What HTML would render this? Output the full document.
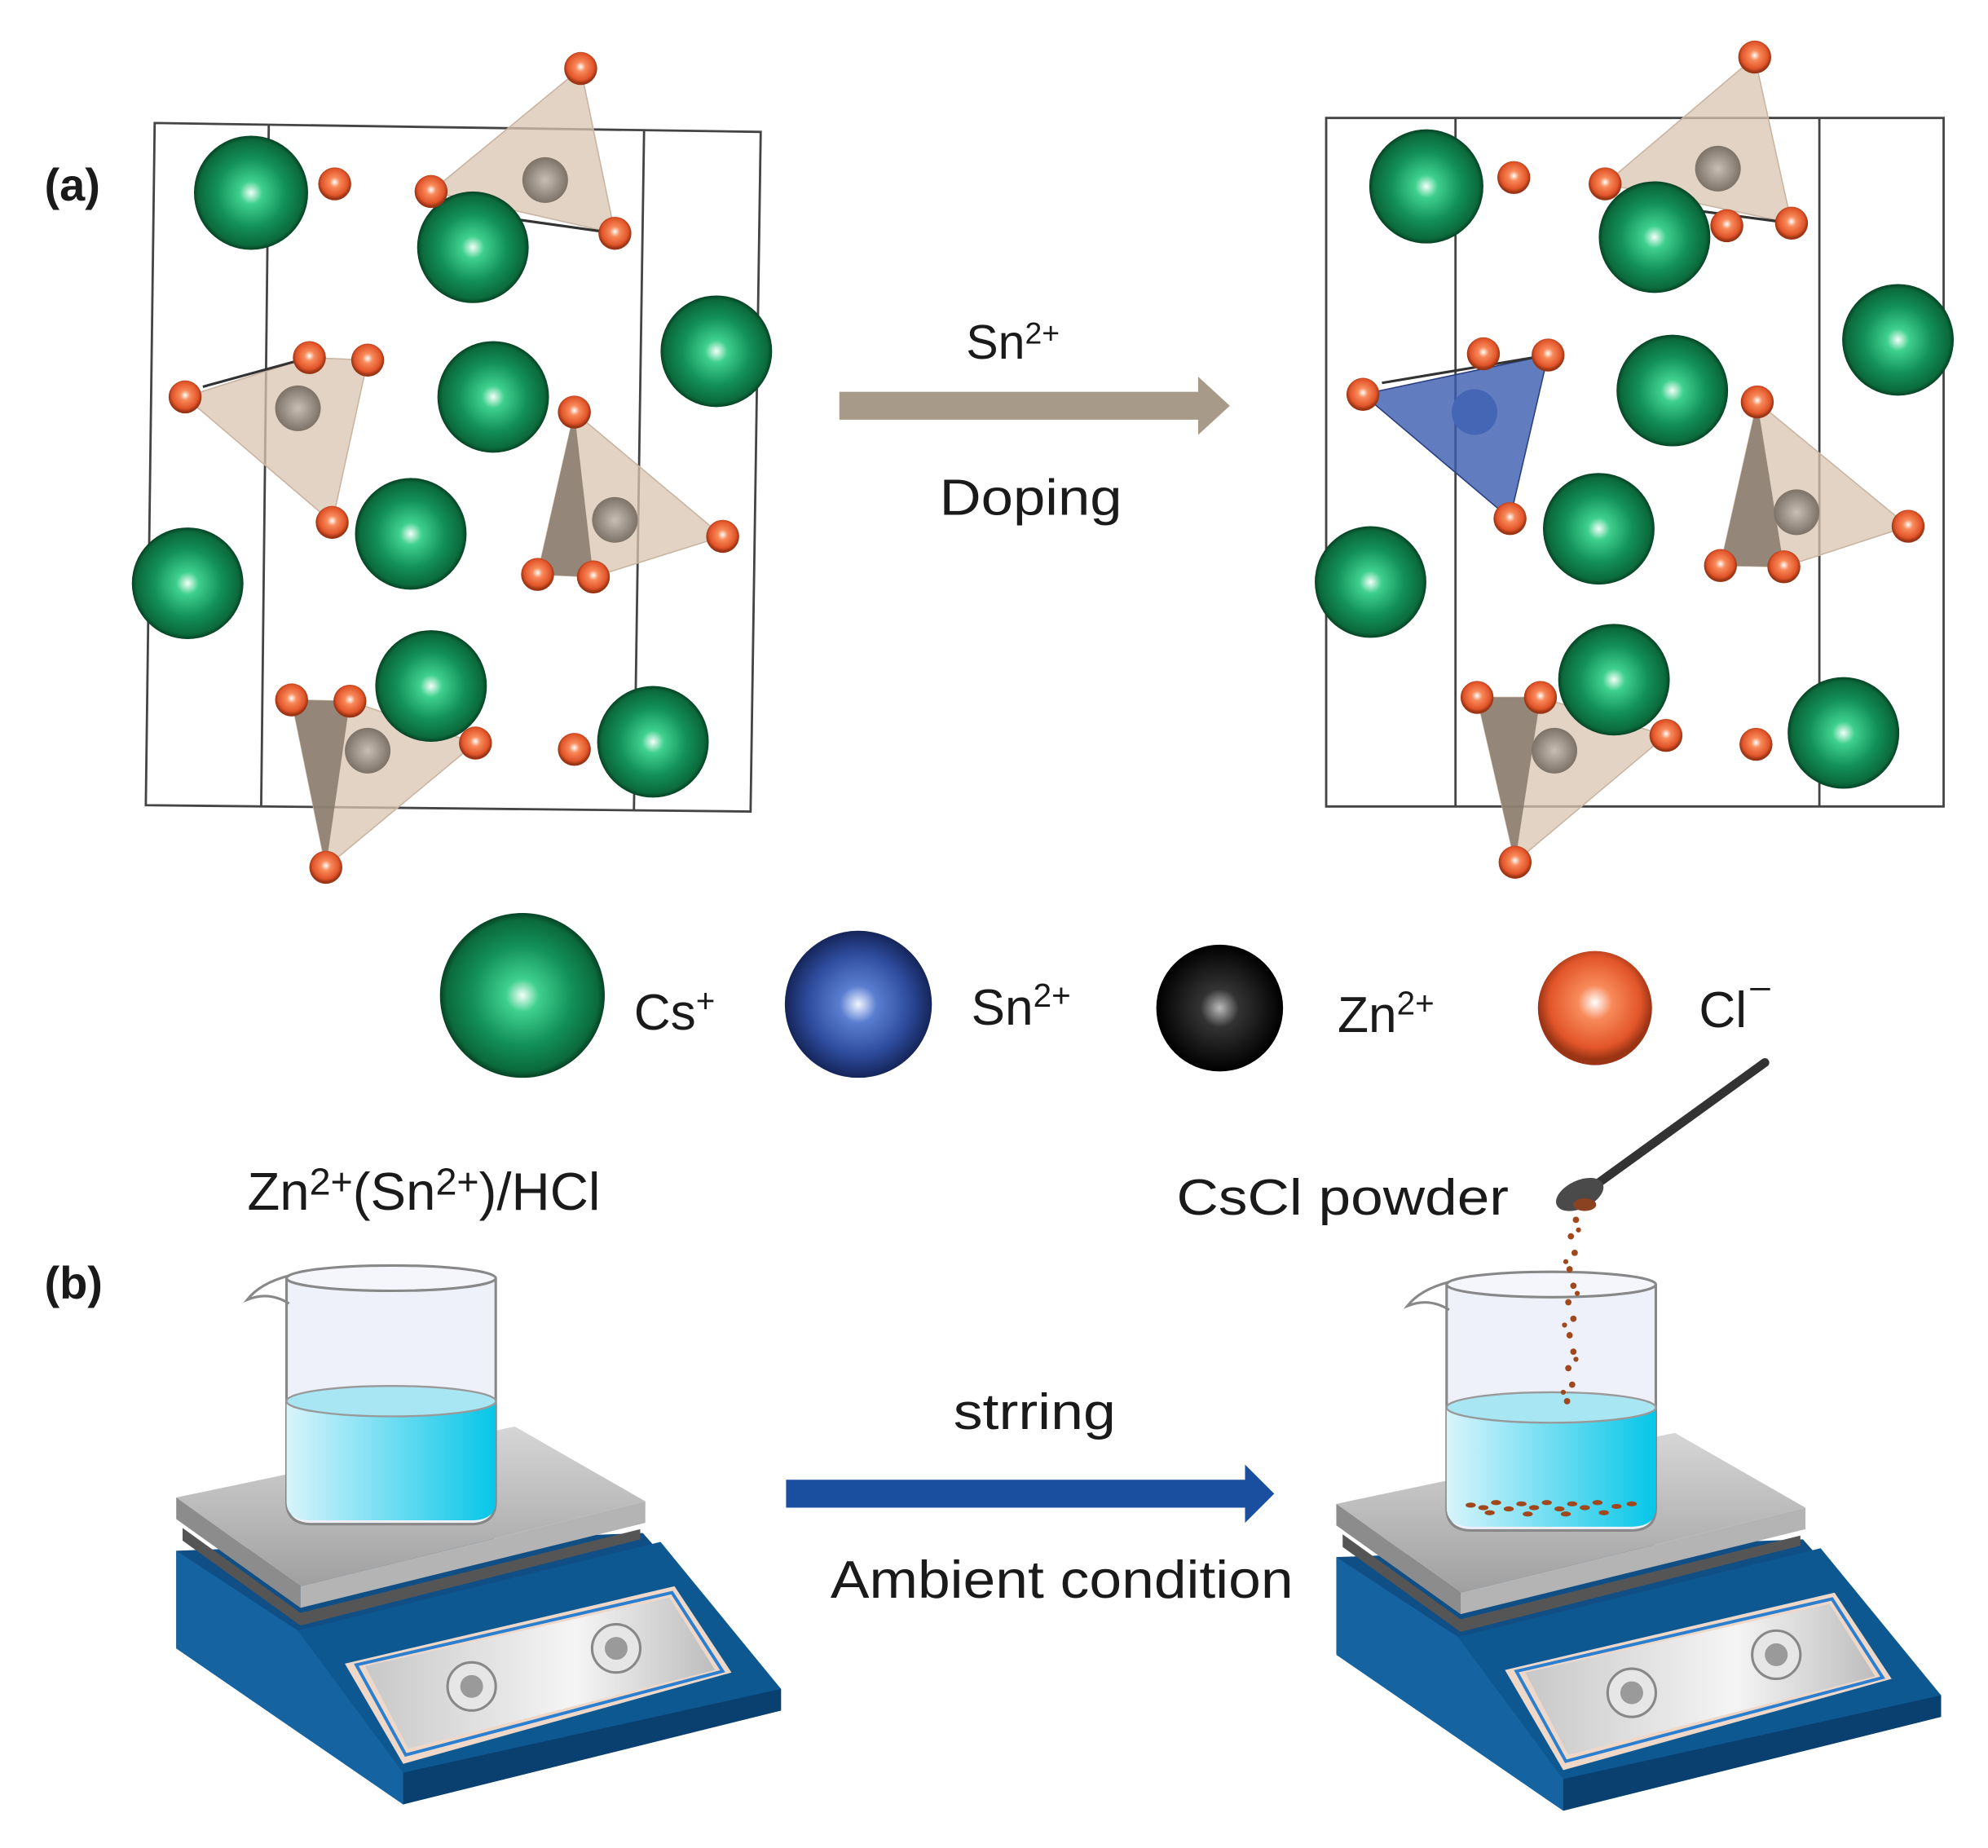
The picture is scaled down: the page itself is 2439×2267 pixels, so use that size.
<!DOCTYPE html>
<html><head><meta charset="utf-8"><style>html,body{margin:0;padding:0;background:#fff}svg{display:block}text{font-family:"Liberation Sans",Arial,sans-serif;fill:#1a1a1a}</style></head>
<body>
<svg width="2439" height="2267" viewBox="0 0 1568 1457.4" xmlns="http://www.w3.org/2000/svg">
<defs>
<radialGradient id="g" cx="50%" cy="50%" r="50%"><stop offset="0" stop-color="#f4fff8"/><stop offset="0.2" stop-color="#3fd08e"/><stop offset="0.6" stop-color="#13915a"/><stop offset="0.92" stop-color="#0b6a3c"/><stop offset="1" stop-color="#064224"/></radialGradient>
<radialGradient id="o" cx="50%" cy="45%" r="50%"><stop offset="0" stop-color="#fff"/><stop offset="0.3" stop-color="#f88a5a"/><stop offset="0.8" stop-color="#e2552a"/><stop offset="1" stop-color="#9a3414"/></radialGradient>
<radialGradient id="b" cx="50%" cy="50%" r="50%"><stop offset="0" stop-color="#f0f6ff"/><stop offset="0.25" stop-color="#5b7ed0"/><stop offset="0.7" stop-color="#2d4a9a"/><stop offset="1" stop-color="#15255a"/></radialGradient>
<radialGradient id="k" cx="50%" cy="50%" r="50%"><stop offset="0" stop-color="#bbb"/><stop offset="0.3" stop-color="#333"/><stop offset="1" stop-color="#000"/></radialGradient>
<radialGradient id="gr" cx="50%" cy="50%" r="50%"><stop offset="0" stop-color="#c8beb4"/><stop offset="1" stop-color="#7d7268"/></radialGradient>
<linearGradient id="water" x1="0" x2="1"><stop offset="0" stop-color="#d8f4fb"/><stop offset="1" stop-color="#06c6e8"/></linearGradient>
<linearGradient id="plate" x1="0" y1="0" x2="0" y2="1"><stop offset="0" stop-color="#d6d6d6"/><stop offset="1" stop-color="#a0a0a0"/></linearGradient>
<linearGradient id="panel" x1="0" x2="1"><stop offset="0" stop-color="#c8c8c8"/><stop offset="0.6" stop-color="#f5f5f5"/><stop offset="1" stop-color="#bdbdbd"/></linearGradient>
<g id="hp">
 <!-- body -->
 <polygon points="139,1223 507,1209 616,1332 616,1349 318,1423 139,1300" fill="#0f4f86"/>
 <polygon points="139,1223 235,1286 318,1398 318,1423 139,1300" fill="#1563a0"/>
 <polygon points="235,1286 521,1216 616,1332 318,1398" fill="#0e5892"/>
 <polygon points="318,1398 616,1332 616,1349 318,1423" fill="#0a406f"/>
 <!-- dark gap -->
 <polygon points="144,1205 237,1272 505,1206 505,1214 237,1282 144,1215" fill="#555"/>
 <!-- plate -->
 <polygon points="139,1181 406,1125 509,1184 237,1251" fill="url(#plate)"/>
 <polygon points="139,1181 237,1251 237,1268 139,1198" fill="#8c8c8c"/>
 <polygon points="237,1251 509,1184 509,1201 237,1268" fill="#b4b4b4"/>
 <!-- panel -->
 <polygon points="272,1312 532,1251 577,1319 318,1391" fill="#f0d8c8"/>
 <polygon points="281,1313 530,1256 570,1318 320,1384" fill="none" stroke="#2a7fd0" stroke-width="2.5"/>
 <polygon points="288,1314 528,1260 564,1317 322,1379" fill="url(#panel)"/>
 <circle cx="372" cy="1330" r="19" fill="#e6e6e6" stroke="#888" stroke-width="2"/>
 <circle cx="372" cy="1330" r="9" fill="#9a9a9a"/>
 <circle cx="486" cy="1300" r="19" fill="#e6e6e6" stroke="#888" stroke-width="2"/>
 <circle cx="486" cy="1300" r="9" fill="#9a9a9a"/>
</g>
<g id="bk">
 <path d="M226,1008 L226,1184 Q226,1202 246,1202 L371,1202 Q391,1202 391,1184 L391,1008" fill="#eef1fa" stroke="#888" stroke-width="2"/>
 <path d="M226,1105 L226,1184 Q226,1199 246,1199 L371,1199 Q391,1199 391,1184 L391,1105 Z" fill="url(#water)"/>
 <ellipse cx="308.5" cy="1105" rx="82.5" ry="12" fill="#a9e6f4" stroke="#999" stroke-width="1.5"/>
 <ellipse cx="308.5" cy="1008" rx="82.5" ry="10" fill="#f5f6fb" stroke="#888" stroke-width="2"/>
 <path d="M228,1006 Q205,1012 195,1025 Q212,1018 228,1028" fill="none" stroke="#888" stroke-width="2"/>
</g>
</defs>
<rect width="1568" height="1458" fill="#fff"/>

<!-- left crystal -->
<g fill="none" stroke="#444" stroke-width="1.8">
<polygon points="122,97 600,104 592,640 115,635"/>
<line x1="212" y1="98" x2="206" y2="636"/><line x1="508" y1="103" x2="500" y2="639"/>
</g>
<g fill="#d9c4b0" fill-opacity="0.75" stroke="#c8b4a0" stroke-width="1">
<polygon points="458,54 340,151 485,184"/>
<polygon points="146,313 244,282 290,284 262,412"/>
<polygon points="453,325 570,423 468,455 424,453"/>
<polygon points="230,552 276,553 375,586 257,684"/>
</g>
<g fill="#7f7468" fill-opacity="0.8">
<polygon points="453,325 424,453 468,455"/>
<polygon points="230,552 257,684 276,553"/>
</g>
<g stroke="#333" stroke-width="2"><line x1="400" y1="172" x2="485" y2="184"/><line x1="160" y1="305" x2="244" y2="282"/></g>
<circle cx="430" cy="142" r="18" fill="url(#gr)"/><circle cx="235" cy="322" r="18" fill="url(#gr)"/><circle cx="485" cy="410" r="18" fill="url(#gr)"/><circle cx="290" cy="592" r="18" fill="url(#gr)"/>
<g fill="url(#g)">
<circle cx="198" cy="152" r="45"/><circle cx="373" cy="195" r="44"/><circle cx="565" cy="277" r="44"/><circle cx="389" cy="313" r="44"/><circle cx="324" cy="421" r="44"/><circle cx="148" cy="460" r="44"/><circle cx="340" cy="541" r="44"/><circle cx="515" cy="585" r="44"/>
</g>
<g fill="url(#o)">
<circle cx="458" cy="54" r="13"/><circle cx="264" cy="145" r="13"/><circle cx="340" cy="151" r="13"/><circle cx="485" cy="184" r="13"/><circle cx="244" cy="282" r="13"/><circle cx="290" cy="284" r="13"/><circle cx="146" cy="313" r="13"/><circle cx="453" cy="325" r="13"/><circle cx="262" cy="412" r="13"/><circle cx="424" cy="453" r="13"/><circle cx="468" cy="455" r="13"/><circle cx="570" cy="423" r="13"/><circle cx="230" cy="552" r="13"/><circle cx="276" cy="553" r="13"/><circle cx="375" cy="586" r="13"/><circle cx="453" cy="591" r="13"/><circle cx="257" cy="684" r="13"/>
</g>

<!-- right crystal -->
<g fill="none" stroke="#444" stroke-width="1.8">
<polygon points="1046,93 1533,93 1533,636 1046,636"/>
<line x1="1148" y1="93" x2="1148" y2="636"/><line x1="1435" y1="93" x2="1435" y2="636"/>
</g>
<g fill="#d9c4b0" fill-opacity="0.75" stroke="#c8b4a0" stroke-width="1">
<polygon points="1384,45 1266,145 1413,176"/>
<polygon points="1386,317 1505,415 1407,447 1357,446"/>
<polygon points="1165,550 1215,550 1314,580 1195,680"/>
</g>
<polygon points="1075,311 1221,280 1191,409" fill="#3b5bb0" fill-opacity="0.8" stroke="#2a3f80" stroke-width="1"/>
<g fill="#7f7468" fill-opacity="0.8">
<polygon points="1386,317 1357,446 1407,447"/>
<polygon points="1165,550 1195,680 1215,550"/>
</g>
<g stroke="#333" stroke-width="2"><line x1="1330" y1="165" x2="1413" y2="176"/><line x1="1090" y1="302" x2="1221" y2="280"/></g>
<circle cx="1355" cy="133" r="18" fill="url(#gr)"/><circle cx="1163" cy="325" r="18" fill="#4565b5"/><circle cx="1417" cy="404" r="18" fill="url(#gr)"/><circle cx="1226" cy="592" r="18" fill="url(#gr)"/>
<g fill="url(#g)">
<circle cx="1125" cy="147" r="45"/><circle cx="1305" cy="187" r="44"/><circle cx="1497" cy="268" r="44"/><circle cx="1319" cy="308" r="44"/><circle cx="1261" cy="417" r="44"/><circle cx="1081" cy="459" r="44"/><circle cx="1273" cy="536" r="44"/><circle cx="1454" cy="578" r="44"/>
</g>
<g fill="url(#o)">
<circle cx="1384" cy="45" r="13"/><circle cx="1194" cy="140" r="13"/><circle cx="1266" cy="145" r="13"/><circle cx="1413" cy="176" r="13"/><circle cx="1362" cy="178" r="13"/><circle cx="1170" cy="279" r="13"/><circle cx="1221" cy="280" r="13"/><circle cx="1075" cy="311" r="13"/><circle cx="1386" cy="317" r="13"/><circle cx="1191" cy="409" r="13"/><circle cx="1357" cy="446" r="13"/><circle cx="1407" cy="447" r="13"/><circle cx="1505" cy="415" r="13"/><circle cx="1165" cy="550" r="13"/><circle cx="1215" cy="550" r="13"/><circle cx="1314" cy="580" r="13"/><circle cx="1385" cy="587" r="13"/><circle cx="1195" cy="680" r="13"/>
</g>

<!-- arrow a -->
<polygon points="662,309 945,309 945,297 970,320 945,343 945,331 662,331" fill="#a89a88"/>
<text x="762" y="283" font-size="38">Sn<tspan font-size="24" dy="-12">2+</tspan></text>
<text x="741" y="406" font-size="40" textLength="144" lengthAdjust="spacingAndGlyphs">Doping</text>
<text x="35" y="158" font-size="36" font-weight="bold">(a)</text>

<!-- legend -->
<circle cx="412" cy="785" r="65" fill="url(#g)"/>
<circle cx="677" cy="792" r="58" fill="url(#b)"/>
<circle cx="962" cy="795" r="50" fill="url(#k)"/>
<circle cx="1258" cy="795" r="45" fill="url(#o)"/>
<text x="500" y="812" font-size="40">Cs<tspan font-size="26" dy="-14">+</tspan></text>
<text x="766" y="808" font-size="40">Sn<tspan font-size="26" dy="-14">2+</tspan></text>
<text x="1055" y="814" font-size="40">Zn<tspan font-size="26" dy="-14">2+</tspan></text>
<text x="1340" y="810" font-size="40">Cl<tspan dy="-10">⁻</tspan></text>

<!-- part b -->
<text x="35" y="1024" font-size="36" font-weight="bold">(b)</text>
<text x="195" y="954" font-size="42">Zn<tspan font-size="30" dy="-12">2+</tspan><tspan dy="12">(Sn</tspan><tspan font-size="30" dy="-12">2+</tspan><tspan dy="12">)/HCl</tspan></text>
<text x="928" y="958" font-size="40" textLength="262" lengthAdjust="spacingAndGlyphs">CsCl powder</text>
<text x="752" y="1127" font-size="40" textLength="128" lengthAdjust="spacingAndGlyphs">strring</text>
<text x="655" y="1260" font-size="42" textLength="365" lengthAdjust="spacingAndGlyphs">Ambient condition</text>
<polygon points="620,1167 982,1167 982,1155 1005,1178 982,1201 982,1189 620,1189" fill="#1a4fa0"/>

<use href="#hp"/>
<use href="#bk"/>
<g transform="translate(915,5)">
<use href="#hp"/>
<use href="#bk"/>
<g fill="#a0471c">
<ellipse cx="245" cy="1182" rx="4" ry="2"/><ellipse cx="255" cy="1184" rx="4" ry="2"/><ellipse cx="265" cy="1180" rx="4" ry="2"/><ellipse cx="275" cy="1185" rx="4" ry="2"/><ellipse cx="285" cy="1181" rx="4" ry="2"/><ellipse cx="295" cy="1184" rx="4" ry="2"/><ellipse cx="305" cy="1180" rx="4" ry="2"/><ellipse cx="315" cy="1185" rx="4" ry="2"/><ellipse cx="325" cy="1181" rx="4" ry="2"/><ellipse cx="335" cy="1184" rx="4" ry="2"/><ellipse cx="345" cy="1180" rx="4" ry="2"/><ellipse cx="360" cy="1183" rx="4" ry="2"/><ellipse cx="372" cy="1181" rx="4" ry="2"/>
<ellipse cx="260" cy="1188" rx="4" ry="2"/><ellipse cx="290" cy="1189" rx="4" ry="2"/><ellipse cx="320" cy="1189" rx="4" ry="2"/><ellipse cx="350" cy="1188" rx="4" ry="2"/>
</g>
</g>
<!-- spoon & powder -->
<line x1="1392" y1="838" x2="1262" y2="932" stroke="#333" stroke-width="7" stroke-linecap="round"/>
<ellipse cx="1246" cy="942" rx="20" ry="11" fill="#4a4a4a" transform="rotate(-25 1246 942)"/>
<ellipse cx="1250" cy="950" rx="9" ry="5" fill="#8a4220"/>
<g fill="#a0471c">
<circle cx="1243" cy="962" r="2.5"/><circle cx="1239" cy="975" r="2.5"/><circle cx="1242" cy="988" r="2.5"/><circle cx="1238" cy="1001" r="2.5"/><circle cx="1241" cy="1014" r="2.5"/><circle cx="1237" cy="1027" r="2.5"/><circle cx="1241" cy="1040" r="2.5"/><circle cx="1238" cy="1053" r="2.5"/><circle cx="1241" cy="1066" r="2.5"/><circle cx="1237" cy="1079" r="2.5"/><circle cx="1240" cy="1092" r="2.5"/><circle cx="1236" cy="1105" r="2.5"/>
<circle cx="1245" cy="970" r="2"/><circle cx="1235" cy="995" r="2"/><circle cx="1244" cy="1020" r="2"/><circle cx="1234" cy="1045" r="2"/><circle cx="1243" cy="1072" r="2"/><circle cx="1233" cy="1098" r="2"/>
</g>
</svg>
</body></html>
